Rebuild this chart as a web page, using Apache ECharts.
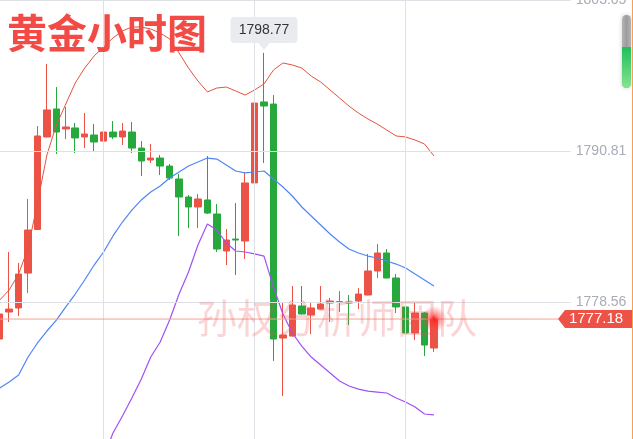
<!DOCTYPE html>
<html><head><meta charset="utf-8">
<script src="https://cdn.jsdelivr.net/npm/echarts@6/dist/echarts.min.js"></script>
<style>html,body{margin:0;padding:0;background:#fff;overflow:hidden;width:633px;height:439px;position:relative}
#c{position:absolute;left:-5px;top:0;width:638px;height:439px}</style>
</head><body><div id="c"></div>
<script>
// ---- data ----
const categories = [
 '09:00','10:00','11:00','12:00','13:00','14:00','15:00','16:00','17:00','18:00','19:00','20:00','21:00','22:00','23:00',
 'd2 00:00','d2 01:00','d2 02:00','d2 03:00','d2 04:00','d2 05:00','d2 06:00','d2 07:00','d2 08:00','d2 09:00','d2 10:00','d2 11:00',
 'd2 12:00','d2 13:00','d2 14:00','d2 15:00','d2 16:00','d2 17:00','d2 18:00','d2 19:00','d2 20:00','d2 21:00','d2 22:00','d2 23:00',
 'd3 00:00','d3 01:00','d3 02:00','d3 03:00','d3 04:00','d3 05:00','d3 06:00','d3 07:00'
];
const opens = [1775.56,1777.75,1778.08,1780.91,1784.45,1791.95,1794.22,1792.60,1792.68,1791.95,1792.11,1791.62,1792.35,1791.95,1792.35,
 1791.05,1790.08,1790.24,1789.59,1788.54,1787.08,1786.27,1786.84,1785.70,1782.70,1783.67,1783.51,1788.22,1794.79,1794.62,1775.64,
 1775.80,1778.24,1777.51,1777.99,1778.48,1778.52,1778.56,1778.64,1779.13,1781.08,1782.54,1780.51,1778.16,1776.05,1777.67,1774.83];
const closes = [1777.59,1777.99,1780.83,1784.40,1792.03,1794.14,1792.35,1792.76,1791.87,1792.19,1791.54,1792.35,1791.95,1792.43,1791.05,
 1790.00,1790.24,1789.59,1788.62,1787.08,1786.27,1786.92,1785.78,1782.86,1783.59,1783.59,1788.22,1794.70,1794.46,1775.56,1775.88,
 1778.32,1777.59,1778.08,1778.40,1778.64,1778.60,1778.48,1779.21,1781.08,1782.54,1780.51,1778.16,1776.05,1777.67,1775.07,1777.18];
const lows = [1775.40,1776.94,1777.43,1779.29,1784.40,1791.90,1790.57,1791.78,1790.65,1791.05,1790.73,1791.50,1791.78,1791.30,1790.65,
 1788.78,1789.84,1788.86,1788.46,1783.92,1784.56,1784.56,1785.70,1782.62,1781.56,1780.75,1782.05,1788.20,1789.84,1773.78,1770.94,
 1775.75,1777.55,1775.97,1777.95,1776.94,1777.75,1776.70,1777.99,1779.10,1780.51,1780.48,1777.67,1775.40,1775.48,1774.18,1774.51];
const highs = [1777.75,1782.62,1781.73,1786.92,1792.84,1797.87,1796.00,1794.38,1793.08,1793.89,1793.00,1793.33,1793.24,1793.08,1793.16,
 1791.62,1791.38,1790.49,1789.76,1788.95,1787.24,1787.32,1790.41,1786.51,1784.48,1786.59,1789.03,1794.95,1798.77,1795.35,1778.48,
 1779.86,1779.86,1778.56,1779.86,1778.89,1779.45,1779.13,1779.70,1782.46,1783.27,1782.86,1780.83,1779.13,1778.48,1777.75,1777.43];
const upperBand = [1778.72,1779.54,1780.83,1782.94,1786.59,1790.49,1792.92,1794.62,1796.33,1797.54,1798.52,1799.25,1799.98,1800.55,1800.87,
 1800.87,1800.71,1800.38,1799.90,1798.76,1797.54,1796.49,1795.60,1795.92,1796.00,1795.68,1795.35,1795.76,1796.25,1797.38,1797.95,
 1797.79,1797.54,1796.89,1796.41,1795.76,1795.11,1794.46,1793.89,1793.41,1793.00,1792.51,1792.03,1791.95,1791.70,1791.38,1790.41];
const midBand = [1771.59,1772.07,1772.64,1774.10,1775.24,1776.21,1777.10,1778.16,1779.21,1780.35,1781.56,1782.62,1783.92,1785.05,1786.02,
 1786.84,1787.48,1787.97,1788.62,1789.11,1789.59,1789.92,1790.24,1790.16,1789.68,1789.19,1789.03,1789.11,1789.19,1788.54,1787.89,
 1787.16,1786.27,1785.54,1784.81,1784.08,1783.43,1782.86,1782.54,1782.29,1782.13,1781.89,1781.64,1781.32,1780.83,1780.35,1779.86];
const lowerBand = [1764.45,1764.61,1764.45,1765.26,1763.88,1761.93,1761.28,1761.69,1762.09,1763.15,1764.61,1765.99,1767.94,1769.31,1770.77,
 1772.32,1774.10,1775.32,1777.10,1779.21,1781.00,1783.19,1784.89,1784.40,1783.35,1782.70,1782.62,1782.46,1782.29,1779.78,1777.59,
 1776.05,1774.99,1774.10,1773.45,1772.80,1772.15,1771.75,1771.50,1771.34,1771.26,1771.18,1770.77,1770.45,1770.04,1769.48,1769.40];
const yTickLabels = [1803.05, 1790.81, 1778.56];
const vGridIndices = [11, 27, 43];
const lastPrice = 1777.18;
const peakIndex = 28;
const peakLabel = '1798.77';
const titleText = '黄金小时图';
const watermarkText = '孙权分析师团队';

// ---- chart ----
const UP = '#ec5246', DOWN = '#27a83c';
const OX = 5; // the chart canvas starts OX px left of the page
const candles = categories.map((c, i) => [opens[i], closes[i], lows[i], highs[i]]);
const chart = echarts.init(document.getElementById('c'), null, {renderer: 'canvas'});
const gridLine = {color: '#dfe0e6', width: 1, type: 'solid'};
chart.setOption({
  animation: false,
  backgroundColor: '#ffffff',
  grid: {left: 0, top: 0, width: 575.8, height: 439, containLabel: false},
  xAxis: {type: 'category', data: categories, max: 60, boundaryGap: true, show: false},
  yAxis: {type: 'value', min: 1767.45, max: 1803.06, show: false, scale: true},
  series: [
    {type: 'line', data: [], z: 1, silent: true,
      markLine: {silent: true, symbol: 'none', animation: false, lineStyle: gridLine,
        data: yTickLabels.map(v => ({yAxis: v, lineStyle: gridLine,
            label: {show: true, position: 'end', distance: 5, formatter: v.toFixed(2), color: '#a9acb6',
              fontSize: 14, fontFamily: 'Liberation Sans, Arial, sans-serif'}}))
          .concat(vGridIndices.map(i => ({xAxis: i, lineStyle: gridLine, label: {show: false}})))}},
    {type: 'candlestick', data: candles, z: 2, barWidth: 7,
      itemStyle: {color: UP, color0: DOWN, borderColor: UP, borderColor0: DOWN, borderWidth: 1}},
    {type: 'line', data: upperBand, z: 3, symbol: 'none', smooth: false, lineStyle: {color: '#e4533e', width: 1}},
    {type: 'line', data: midBand, z: 3, symbol: 'none', lineStyle: {color: '#4f86f7', width: 1.2}},
    {type: 'line', data: lowerBand, z: 3, symbol: 'none', lineStyle: {color: '#a050f5', width: 1.2}}
  ]
});

// ---- overlays positioned through the chart's own scales ----
const pk = chart.convertToPixel({gridIndex: 0}, [peakIndex, highs[peakIndex]]);
const lp = chart.convertToPixel({gridIndex: 0}, [categories.length - 1, lastPrice]);
const W = 633 + OX, H = 439, tagX = 558 + OX;
chart.setOption({graphic: [
  {type: 'line', z: 10, shape: {x1: 0, y1: lp[1], x2: tagX, y2: lp[1]}, style: {stroke: '#f4a092', lineWidth: 1}},
  {type: 'circle', z: 11, shape: {cx: lp[0], cy: lp[1], r: 13},
    style: {fill: new echarts.graphic.RadialGradient(0.5, 0.5, 0.5, [
      {offset: 0, color: 'rgba(255,20,20,0.95)'}, {offset: 0.35, color: 'rgba(255,40,40,0.55)'}, {offset: 1, color: 'rgba(255,60,60,0)'}])}},
  {type: 'text', z: 12, x: 337 + OX, y: lp[1] - 1,
    style: {text: watermarkText, fontSize: 40, fontFamily: 'Noto Sans CJK SC', fontWeight: 'normal',
      fill: 'rgba(240,80,80,0.24)', align: 'center', verticalAlign: 'middle'}},
  {type: 'polygon', z: 13, shape: {points: [[tagX, lp[1]], [tagX + 7, lp[1] - 9], [W, lp[1] - 9], [W, lp[1] + 9], [tagX + 7, lp[1] + 9]]},
    style: {fill: '#ee5247'}},
  {type: 'text', z: 14, x: 596 + OX, y: lp[1],
    style: {text: lastPrice.toFixed(2), fontSize: 15, fontFamily: 'Liberation Sans, Arial, sans-serif', fill: '#ffffff',
      align: 'center', verticalAlign: 'middle'}},
  {type: 'rect', z: 13, shape: {x: pk[0] - 33.5, y: pk[1] - 36, width: 67, height: 26, r: 4}, style: {fill: '#e9ebee'}},
  {type: 'polygon', z: 13, shape: {points: [[pk[0] - 6, pk[1] - 10.5], [pk[0] + 6, pk[1] - 10.5], [pk[0], pk[1] - 3]]}, style: {fill: '#e9ebee'}},
  {type: 'text', z: 14, x: pk[0], y: pk[1] - 23,
    style: {text: peakLabel, fontSize: 14, fontFamily: 'Liberation Sans, Arial, sans-serif', fill: '#333333',
      align: 'center', verticalAlign: 'middle'}},
  {type: 'text', z: 15, x: 7 + OX, y: 33,
    style: {text: titleText, fontSize: 40, fontWeight: 'bold', fontFamily: 'Noto Sans CJK SC', fill: '#f44a46',
      align: 'left', verticalAlign: 'middle'}},
  {type: 'rect', z: 15, shape: {x: 622 + OX, y: 15, width: 9, height: 73, r: 4.5},
    style: {fill: new echarts.graphic.LinearGradient(0, 0, 1, 0, [{offset: 0, color: '#b4b4b4'}, {offset: 0.5, color: '#9c9c9c'}, {offset: 1, color: '#b4b4b4'}]),
      shadowBlur: 4, shadowColor: 'rgba(0,0,0,0.2)'}},
  {type: 'rect', z: 16, shape: {x: 622 + OX, y: 47, width: 9, height: 41, r: [0, 0, 4.5, 4.5]},
    style: {fill: new echarts.graphic.LinearGradient(0, 0, 0, 1, [{offset: 0, color: '#1fbf5a'}, {offset: 1, color: '#86e48f'}])}},
  {type: 'line', z: 17, shape: {x1: 632.5 + OX, y1: 0, x2: 632.5 + OX, y2: H}, style: {stroke: '#f5a055', lineWidth: 1}}
]});
</script></body></html>
